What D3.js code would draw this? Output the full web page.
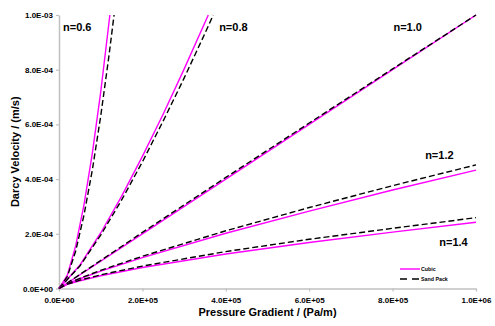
<!DOCTYPE html>
<html>
<head>
  <title>Darcy Velocity vs Pressure Gradient</title>
  <script src="https://d3js.org/d3.v7.min.js"></script>
  <style>
    body { margin: 0; background: #fff; }
    text { font-family: "Liberation Sans", Arial, sans-serif; }
  </style>
</head>
<body>
<script type="text/javascript">
  var w = 495;
  var h = 326;
  var margin = {top: 15, right: 19, bottom: 37.5, left: 59};

  // pressure gradient samples (Pa/m) and darcy velocity (m/s)
  var g06Cubic = [0, 2e4, 4e4, 6e4, 8e4, 1e5, 1.22e5];
  var v06Cubic = [0, 4.9e-5, 1.56e-4, 3.07e-4, 4.95e-4, 7.18e-4, 1.0e-3];
  var g06Sand  = [0, 2e4, 4e4, 6e4, 8e4, 1e5, 1.2e5, 1.32e5];
  var v06Sand  = [0, 4.3e-5, 1.37e-4, 2.69e-4, 4.34e-4, 6.3e-4, 8.53e-4, 1.0e-3];

  var g08Cubic = [0, 5e4, 1e5, 1.5e5, 2e5, 2.5e5, 3e5, 3.58e5];
  var v08Cubic = [0, 8.5e-5, 2.03e-4, 3.37e-4, 4.83e-4, 6.38e-4, 8.02e-4, 1.0e-3];
  var g08Sand  = [0, 5e4, 1e5, 1.5e5, 2e5, 2.5e5, 3e5, 3.5e5, 3.7e5];
  var v08Sand  = [0, 8.2e-5, 1.95e-4, 3.23e-4, 4.63e-4, 6.13e-4, 7.69e-4, 9.33e-4, 1.0e-3];

  var g10 = [0, 2e5, 4e5, 6e5, 8e5, 1e6];
  var v10Cubic = [0, 2.0e-4, 4.0e-4, 6.0e-4, 8.0e-4, 1.0e-3];
  var v10Sand  = [0, 2.05e-4, 4.06e-4, 6.05e-4, 8.03e-4, 1.0e-3];

  var gLow = [0, 2e4, 5e4, 1e5, 2e5, 4e5, 6e5, 8e5, 1e6];
  var v12Cubic = [0, 1.66e-5, 3.57e-5, 6.36e-5, 1.13e-4, 2.02e-4, 2.83e-4, 3.60e-4, 4.33e-4];
  var v12Sand  = [0, 1.73e-5, 3.73e-5, 6.65e-5, 1.18e-4, 2.11e-4, 2.96e-4, 3.76e-4, 4.52e-4];
  var v14Cubic = [0, 1.48e-5, 2.85e-5, 4.67e-5, 7.67e-5, 1.26e-4, 1.68e-4, 2.06e-4, 2.42e-4];
  var v14Sand  = [0, 1.58e-5, 3.05e-5, 5.0e-5, 8.2e-5, 1.35e-4, 1.80e-4, 2.20e-4, 2.59e-4];

  var xTicks = [0, 2e5, 4e5, 6e5, 8e5, 1e6];
  var yTicks = [0, 2e-4, 4e-4, 6e-4, 8e-4, 1e-3];

  // curve labels: text, gradient, velocity (where the text baseline starts)
  var labelText = ["n=0.6", "n=0.8", "n=1.0", "n=1.2", "n=1.4"];
  var labelG = [0.96e4, 3.84e5, 8.02e5, 8.78e5, 9.12e5];
  var labelV = [9.41e-4, 9.41e-4, 9.43e-4, 4.72e-4, 1.54e-4];

  var legendNames = ["Cubic", "Sand Pack"];

  var svg = d3.select("body").append("svg")
    .attr("width", w)
    .attr("height", h);

  var xScale = d3.scaleLinear()
    .domain([0, 1e6])
    .range([margin.left, w - margin.right]);

  var yScale = d3.scaleLinear()
    .domain([0, 1e-3])
    .range([h - margin.bottom, margin.top]);

  // excel style 1.0E-03 labels
  function sci(v) {
    if (v === 0) return "0.0E+00";
    var p = v.toExponential(1).split("e");
    var e = parseInt(p[1]);
    var s = e < 0 ? "-" : "+";
    e = Math.abs(e);
    return p[0] + "E" + s + (e < 10 ? "0" + e : e);
  }

  var xAxis = svg.append("g")
    .attr("transform", "translate(0," + (h - margin.bottom) + ")")
    .call(d3.axisBottom(xScale).tickValues(xTicks).tickFormat(sci).tickSize(3).tickSizeOuter(0));

  var yAxis = svg.append("g")
    .attr("transform", "translate(" + margin.left + ",0)")
    .call(d3.axisLeft(yScale).tickValues(yTicks).tickFormat(sci).tickSize(3).tickSizeOuter(0));

  [xAxis, yAxis].forEach(function(a){
    a.select(".domain").attr("stroke", "#c0c0c0").attr("stroke-width", 1.5);
    a.selectAll(".tick line").attr("stroke", "#c0c0c0").attr("stroke-width", 1.2);
    a.selectAll(".tick text")
      .attr("fill", "#000")
      .style("font-size", "8px")
      .style("font-weight", "bold")
      .style("font-family", "'Liberation Sans', Arial, sans-serif");
  });
  xAxis.selectAll(".tick text").attr("dy", "0").attr("y", 14);
  yAxis.selectAll(".tick text").attr("x", -6);

  var line = d3.line()
    .x(function(d){ return xScale(d[0]); })
    .y(function(d){ return yScale(d[1]); });

  var series = [
    [g06Cubic, v06Cubic, "cubic"], [g06Sand, v06Sand, "sand"],
    [g08Cubic, v08Cubic, "cubic"], [g08Sand, v08Sand, "sand"],
    [g10, v10Cubic, "cubic"], [g10, v10Sand, "sand"],
    [gLow, v12Cubic, "cubic"], [gLow, v12Sand, "sand"],
    [gLow, v14Cubic, "cubic"], [gLow, v14Sand, "sand"]
  ];

  svg.selectAll("path.curve")
    .data(series)
    .enter()
    .append("path")
    .attr("class", "curve")
    .attr("d", function(s){ return line(d3.zip(s[0], s[1])); })
    .attr("fill", "none")
    .attr("stroke", function(s){ return s[2] === "cubic" ? "#ff00ff" : "#000"; })
    .attr("stroke-width", 1.4)
    .attr("stroke-dasharray", function(s){ return s[2] === "cubic" ? null : "6,3"; });

  // n= labels
  svg.selectAll("text.nlabel")
    .data(labelText)
    .enter()
    .append("text")
    .attr("class", "nlabel")
    .attr("x", function(d, i){ return xScale(labelG[i]); })
    .attr("y", function(d, i){ return yScale(labelV[i]); })
    .style("font-size", "11px")
    .style("font-weight", "bold")
    .text(function(d){ return d; });

  // axis titles
  svg.append("text")
    .attr("x", (margin.left + w - margin.right) / 2)
    .attr("y", 316)
    .attr("text-anchor", "middle")
    .style("font-size", "11px")
    .style("font-weight", "bold")
    .text("Pressure Gradient / (Pa/m)");

  svg.append("text")
    .attr("transform", "translate(19," + ((margin.top + h - margin.bottom) / 2) + ")rotate(-90)")
    .attr("text-anchor", "middle")
    .style("font-size", "11px")
    .style("font-weight", "bold")
    .text("Darcy Velocity / (m/s)");

  // legend
  var legend = svg.selectAll("g.legend")
    .data(legendNames)
    .enter()
    .append("g")
    .attr("class", "legend")
    .attr("transform", function(d, i){ return "translate(400," + (269 + i * 10) + ")"; });

  legend.append("line")
    .attr("x1", 0).attr("x2", 20)
    .attr("y1", 0).attr("y2", 0)
    .attr("stroke", function(d, i){ return i === 0 ? "#ff00ff" : "#000"; })
    .attr("stroke-width", 1.4)
    .attr("stroke-dasharray", function(d, i){ return i === 0 ? null : "7,5"; });

  legend.append("text")
    .attr("x", 21)
    .attr("y", 1.8)
    .style("font-size", "5.3px")
    .style("font-weight", "bold")
    .text(function(d){ return d; });
</script>
</body>
</html>
